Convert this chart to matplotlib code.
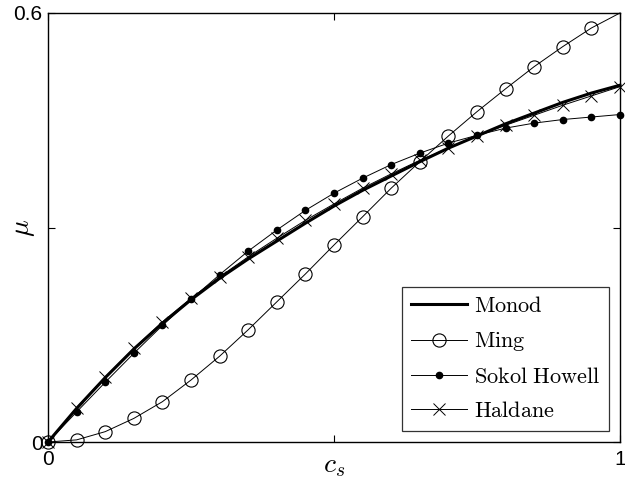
import numpy as np
import matplotlib
matplotlib.use("Agg")
import matplotlib.pyplot as plt

plt.rcParams["font.family"] = ["Liberation Sans", "DejaVu Sans"]
plt.rcParams["mathtext.fontset"] = "cm"

cs = [0.00, 0.05, 0.10, 0.15, 0.20, 0.25, 0.30, 0.35, 0.40, 0.45, 0.50,
      0.55, 0.60, 0.65, 0.70, 0.75, 0.80, 0.85, 0.90, 0.95, 1.00]

monod = [0, 0.047, 0.090, 0.130, 0.166, 0.199, 0.229, 0.256, 0.281, 0.306, 0.330,
         0.352, 0.372, 0.392, 0.411, 0.428, 0.445, 0.460, 0.475, 0.488, 0.499]
ming = [0, 0.003, 0.0145, 0.033, 0.0564, 0.0867, 0.120, 0.157, 0.196, 0.235, 0.2755,
        0.315, 0.355, 0.392, 0.428, 0.462, 0.494, 0.525, 0.553, 0.579, 0.600]
sokol = [0, 0.042, 0.0835, 0.124, 0.163, 0.1995, 0.234, 0.267, 0.2965, 0.324, 0.348,
         0.369, 0.388, 0.404, 0.418, 0.429, 0.439, 0.446, 0.451, 0.4545, 0.458]
haldane = [0, 0.048, 0.091, 0.131, 0.168, 0.201, 0.231, 0.259, 0.285, 0.310, 0.333,
           0.355, 0.375, 0.394, 0.411, 0.428, 0.443, 0.457, 0.471, 0.484, 0.497]

fig = plt.figure(figsize=(6.25, 4.79), dpi=100)
ax = fig.add_axes([0.0768, 0.0772, 0.9152, 0.8957])

ax.plot(cs, monod, color="black", lw=2.2, label=r"$\mathrm{Monod}$", clip_on=False, zorder=3)
ax.plot(cs, ming, color="black", lw=0.7, marker="o", ms=9.5, mfc="none", mew=0.8,
        markevery=list(range(20)), label=r"$\mathrm{Ming}$", clip_on=False)
ax.plot(cs, sokol, color="black", lw=0.7, marker="o", ms=4.5, mfc="black",
        label=r"$\mathrm{Sokol\ Howell}$", clip_on=False)
ax.plot(cs, haldane, color="black", lw=0.7, marker="x", ms=9, mew=0.7,
        label=r"$\mathrm{Haldane}$", clip_on=False)

ax.set_xlim(0, 1)
ax.set_ylim(0, 0.6)
ax.set_xticks([0, 0.5, 1])
ax.set_xticklabels(["0", "", "1"])
ax.set_yticks([0, 0.3, 0.6])
ax.set_yticklabels(["0", "", "0.6"])
ax.tick_params(direction="in", length=5, width=0.8, labelsize=15, top=True, right=True)
ax.tick_params(axis="x", pad=6)
ax.tick_params(axis="y", pad=4)
for s in ax.spines.values():
    s.set_linewidth(1.0)

ax.set_xlabel(r"$c_s$", fontsize=20)
ax.xaxis.set_label_coords(0.5, -0.025)
ax.set_ylabel(r"$\mu$", fontsize=20)
ax.yaxis.set_label_coords(-0.02, 0.5)

leg = ax.legend(loc="lower right", fontsize=16, frameon=True, fancybox=False,
                edgecolor="black", handlelength=2.5, labelspacing=0.6,
                borderaxespad=0.5, handletextpad=0.3, borderpad=0.4)
leg.get_frame().set_linewidth(0.9)

fig.savefig("out.png", dpi=100)
